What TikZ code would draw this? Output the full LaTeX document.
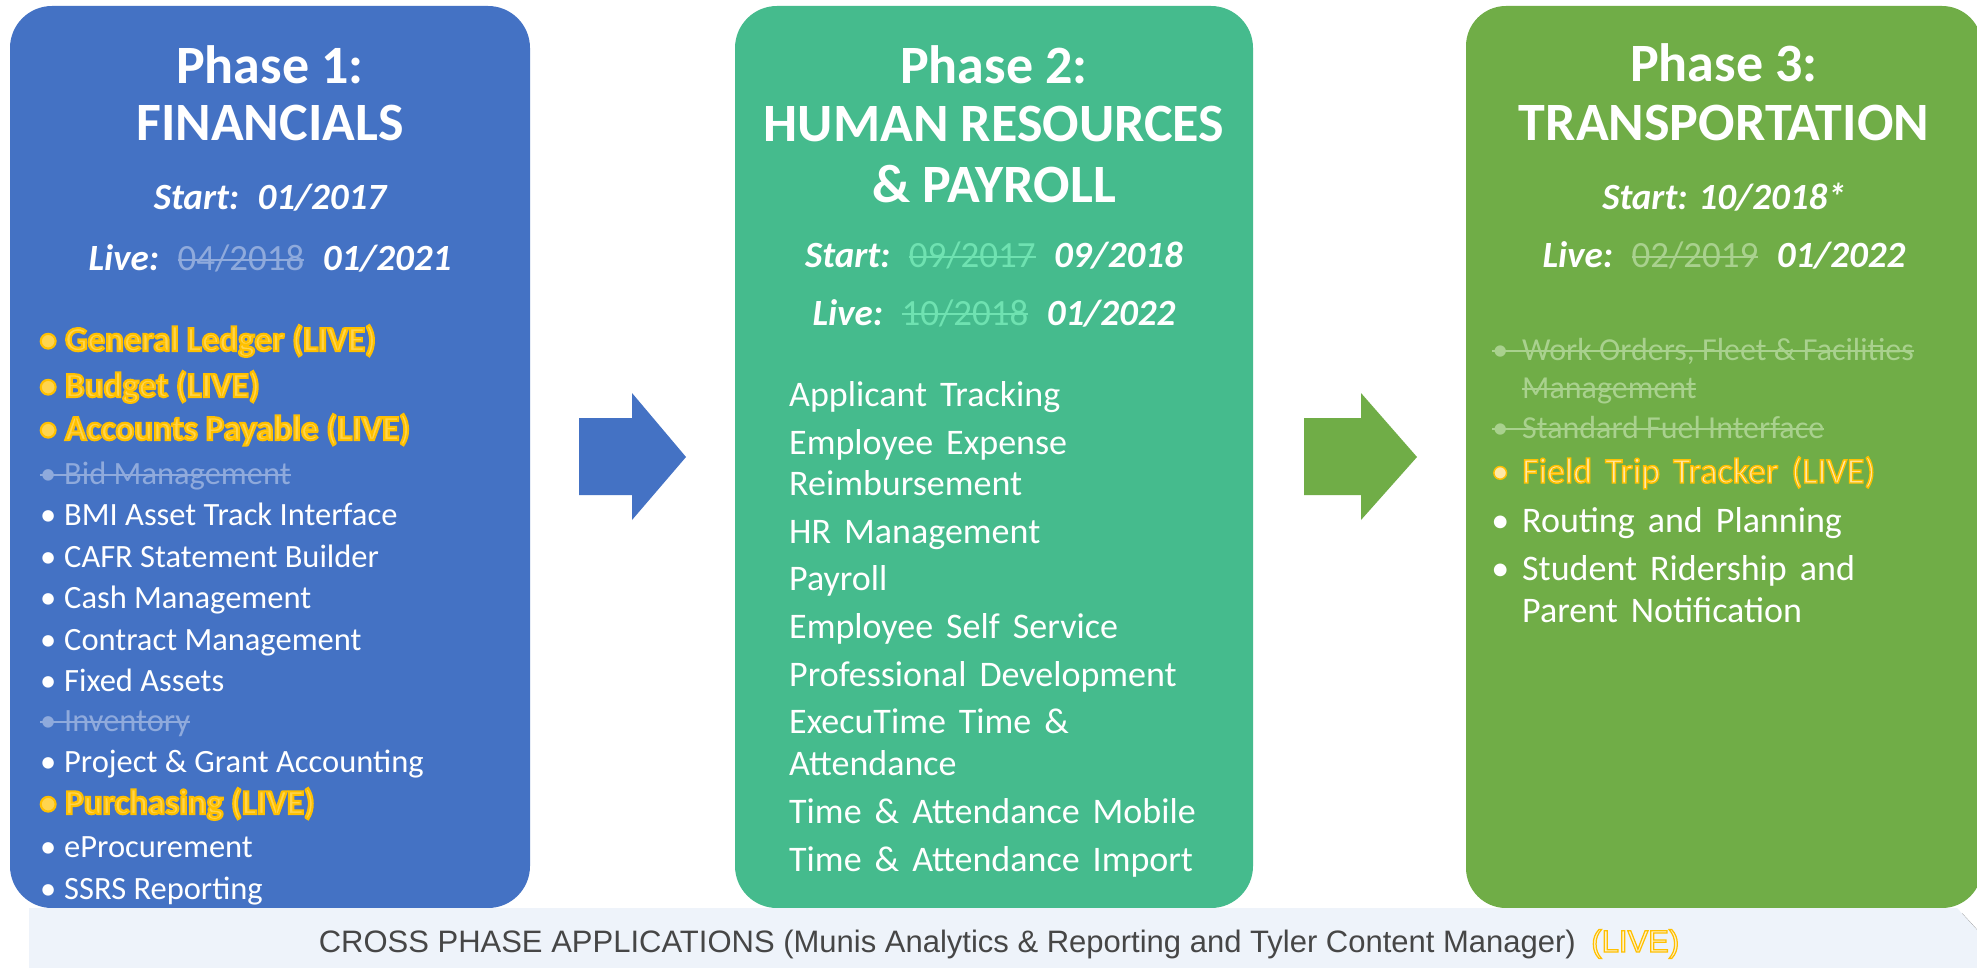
\documentclass[tikz,border=0pt]{standalone}
\usepackage{fontspec}
\setmainfont{Carlito}
\newfontfamily\widefont[WordSpace=1.6]{Carlito}
\newfontfamily\barfont{Liberation Sans}

\definecolor{finblue}{HTML}{4472C4}
\definecolor{hrgreen}{HTML}{45BB8D}
\definecolor{trgreen}{HTML}{70AD47}
\definecolor{finold}{HTML}{8FAADC}
\definecolor{hrold}{HTML}{6FE2B1}
\definecolor{trold}{HTML}{A9D18E}
\definecolor{barfill}{HTML}{EEF3FA}
\definecolor{bartext}{HTML}{464646}

% struck-out text, line drawn through the box
\newsavebox\oldbox
\newcommand{\old}[2]{{\color{#1}\sbox\oldbox{#2}%
  \rlap{\rule[0.26em]{\wd\oldbox}{2pt}}\usebox\oldbox}}
% light text with a gold rim (stroked glyphs), #2 = rim weight
\newcommand{\live}[3][FFD54F]{{\addfontfeatures{FakeBold=#2}\color[HTML]{#1}%
  \special{pdf:literal direct 1 0.753 0 RG}#3}}
\newcommand{\bul}[1][8pt]{\makebox[16pt][c]{•}\hspace{#1}}

\tikzset{
  title/.style={text=white, anchor=base, inner sep=0pt, font=\bfseries\fontsize{54}{60}\selectfont},
  dates/.style={text=white, anchor=base, inner sep=0pt, font=\bfseries\itshape\fontsize{37}{44}\selectfont},
  item/.style={text=white, anchor=base west, inner sep=0pt, font=\fontsize{32.5}{38}\selectfont},
  bolditem/.style={item, font=\bfseries\fontsize{35}{40}\selectfont},
  wide/.style={font=\widefont\fontsize{36}{40}\selectfont}
}

\begin{document}
\begin{tikzpicture}[x=1pt, y=-1pt]
  \clip (0,0) rectangle (1977,968);
  \fill[white] (0,0) rectangle (1977,968);

  % the three phases
  \fill[finblue, rounded corners=42pt] (10,6) rectangle (530,908);
  \fill[hrgreen, rounded corners=42pt] (735,6) rectangle (1253,908);
  \fill[trgreen, rounded corners=40pt] (1466,6) rectangle (1982,908);

  % block arrows between phases
  \fill[finblue] (579,418) -- (632,418) -- (632,393) -- (686,457) -- (632,520) -- (632,495) -- (579,495) -- cycle;
  \fill[trgreen] (1304,418) -- (1361,418) -- (1361,393) -- (1417,457) -- (1361,520) -- (1361,495) -- (1304,495) -- cycle;

  % Phase 1
  \node[title] (fin1) at (270,84) {Phase 1:};
  \node[title] (fin2) at (270,141) {FINANCIALS};
  \node[dates] (finstart) at (270,210) {Start:\enspace 01/2017};
  \node[dates] (finlive) at (270,271) {Live:\enspace\old{finold}{\normalfont 04/2018}\enspace 01/2021};

  \node[bolditem] (gl) at (40,351) {\live{6}{\bul[9pt]General Ledger (LIVE)}};
  \node[bolditem] (bud) at (40,397) {\live{6}{\bul[9pt]Budget (LIVE)}};
  \node[bolditem] (ap) at (40,440) {\live{6}{\bul[9pt]Accounts Payable (LIVE)}};
  \node[item] (bid) at (40,484) {\old{finold}{\bul Bid Management}};
  \node[item] (bmi) at (40,525) {\bul BMI Asset Track Interface};
  \node[item] (cafr) at (40,567) {\bul CAFR Statement Builder};
  \node[item] (cash) at (40,608) {\bul Cash Management};
  \node[item] (con) at (40,650) {\bul Contract Management};
  \node[item] (fa) at (40,691) {\bul Fixed Assets};
  \node[item] (inv) at (40,731) {\old{finold}{\bul Inventory}};
  \node[item] (pga) at (40,772) {\bul Project \& Grant Accounting};
  \node[bolditem] (pur) at (40,814) {\live{6}{\bul[9pt]Purchasing (LIVE)}};
  \node[item] (epro) at (40,857) {\bul eProcurement};
  \node[item] (ssrs) at (40,899) {\bul SSRS Reporting};

  % Phase 2
  \node[title] (hr1) at (994,84) {Phase 2:};
  \node[title] (hr2) at (994,142) {HUMAN RESOURCES};
  \node[title] (hr3) at (994,203) {\& PAYROLL};
  \node[dates] (hrstart) at (994,268) {Start:\enspace\old{hrold}{\normalfont 09/2017}\enspace 09/2018};
  \node[dates] (hrlive) at (994,325) {Live:\enspace\old{hrold}{\normalfont 10/2018}\enspace 01/2022};

  \foreach \y/\t [count=\i] in {406/Applicant Tracking, 454/Employee Expense, 495/Reimbursement,
      543/HR Management, 590/Payroll, 638/Employee Self Service, 686/Professional Development,
      733/ExecuTime Time \&, 775/Attendance, 823/Time \& Attendance Mobile, 871/Time \& Attendance Import}
    \node[item, wide] (hritem\i) at (789,\y) {\t};

  % Phase 3
  \node[title] (tr1) at (1724,82) {Phase 3:};
  \node[title] (tr2) at (1724,141) {TRANSPORTATION};
  \node[dates] (trstart) at (1724,210) {Start: 10/2018*};
  \node[dates] (trlive) at (1724,268) {Live:\enspace\old{trold}{\normalfont 02/2019}\enspace 01/2022};

  \node[item, font=\fontsize{32}{38}\selectfont] (wo) at (1492,360) {\old{trold}{\bul[14pt]Work Orders, Fleet \& Facilities}};
  \node[item, font=\fontsize{32}{38}\selectfont] (wo2) at (1522,398) {\old{trold}{Management}};
  \node[item, font=\fontsize{32}{38}\selectfont] (fuel) at (1492,438) {\old{trold}{\bul[14pt]Standard Fuel Interface}};
  \node[item, wide] (ftt) at (1492,483) {\live[FFE9A8]{4}{\bul[14pt]Field Trip Tracker (LIVE)}};
  \node[item, wide] (rout) at (1492,532) {\bul[14pt]Routing and Planning};
  \node[item, wide] (rider) at (1492,580) {\bul[14pt]Student Ridership and};
  \node[item, wide] (rider2) at (1522,622) {Parent Notification};

  % cross phase bar
  \fill[black!45] (34,913) -- (1962,913) -- (2005,960) -- (1962,1007) -- (34,1007) -- cycle;
  \fill[barfill] (29,908) -- (1957,908) -- (2000,955) -- (1957,1002) -- (29,1002) -- cycle;
  \node[anchor=base, inner sep=0pt, text=bartext, font=\barfont\fontsize{31}{36}\selectfont] (cross) at (999,952)
    {CROSS PHASE APPLICATIONS (Munis Analytics \& Reporting and Tyler Content Manager)\enspace\live[FFF2CC]{4}{(LIVE)}};
\end{tikzpicture}
\end{document}
